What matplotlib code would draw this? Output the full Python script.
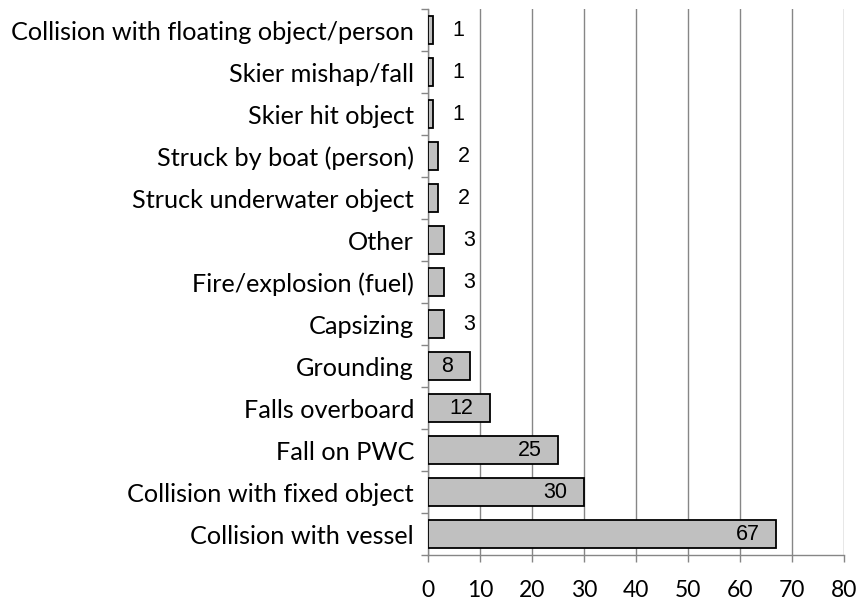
import matplotlib.pyplot as plt
import numpy as np

# accident types, bottom to top
categories = ['Collision with vessel', 'Collision with fixed object', 'Fall on PWC',
              'Falls overboard', 'Grounding', 'Capsizing', 'Fire/explosion (fuel)',
              'Other', 'Struck underwater object', 'Struck by boat (person)',
              'Skier hit object', 'Skier mishap/fall', 'Collision with floating object/person']
counts = [67, 30, 25, 12, 8, 3, 3, 3, 2, 2, 1, 1, 1]
xticks = [0, 10, 20, 30, 40, 50, 60, 70, 80]

plt.rcParams['font.family'] = ['Lato', 'DejaVu Sans']
grey = '#868686'

fig = plt.figure(figsize=(8.56, 6.03), dpi=100)
ax = fig.add_axes([0.5, 0.0796, 0.486, 0.9054])

y = np.arange(len(categories))
bars = ax.barh(y, counts, height=0.67, color='#c0c0c0', edgecolor='black', linewidth=1.3, zorder=3)

# value labels: small ones outside the bar, the rest inside the end
for yi, v in zip(y, counts):
    if v <= 3:
        ax.annotate(str(v), (v, yi), xytext=(14, 0), textcoords='offset points',
                    ha='left', va='center', fontsize=15.5, family='Liberation Sans', zorder=4)
    else:
        ax.annotate(str(v), (v, yi), xytext=(-12, 0), textcoords='offset points',
                    ha='right', va='center', fontsize=15.5, family='Liberation Sans', zorder=4)

ax.set_xlim(0, 80)
ax.set_ylim(-0.5, len(categories) - 0.5)
ax.set_xticks(xticks)
ax.set_yticks(y)
ax.set_yticklabels(categories, fontsize=18.2)
ax.set_yticks(np.arange(-0.5, len(categories), 1), minor=True)
ax.tick_params(axis='y', which='major', length=0, pad=10)
ax.tick_params(axis='y', which='minor', length=5, color=grey, width=1)
ax.tick_params(axis='x', length=5, color=grey, width=1, pad=13, labelsize=16.5)

ax.grid(axis='x', color=grey, linewidth=1, zorder=0)
for s in ['top', 'right']:
    ax.spines[s].set_visible(False)
for s in ['left', 'bottom']:
    ax.spines[s].set_color(grey)
    ax.spines[s].set_linewidth(1)

fig.savefig('out.png', dpi=100)
